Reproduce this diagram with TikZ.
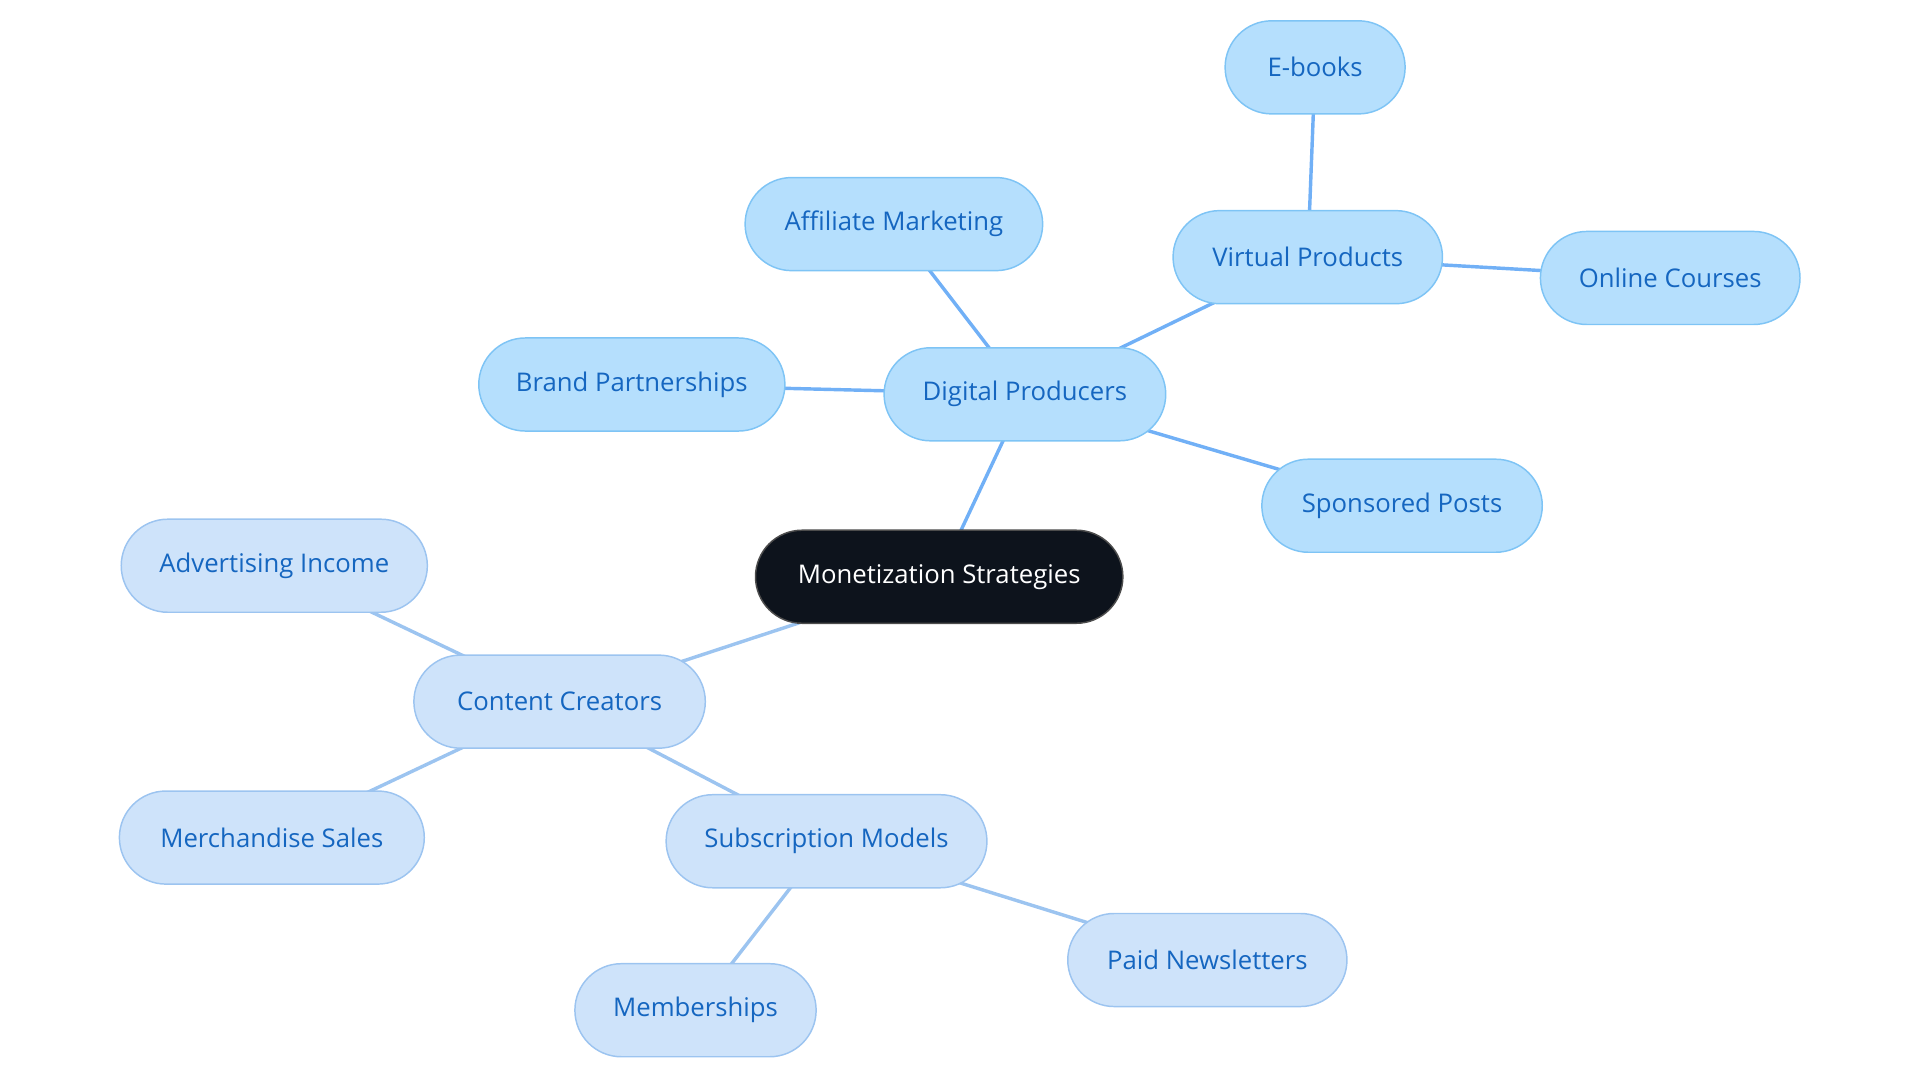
\documentclass[tikz,border=0pt]{standalone}
\usepackage{fontspec}
\setmainfont{Open Sans}
\usetikzlibrary{backgrounds}
\definecolor{bfill}{HTML}{B5DFFD}
\definecolor{bline}{HTML}{7EC4F5}
\definecolor{lfill}{HTML}{CEE3FA}
\definecolor{lline}{HTML}{9CC4F0}
\definecolor{txt}{HTML}{1566C0}
\definecolor{root}{HTML}{0D131C}
\begin{document}
\begin{tikzpicture}[x=0.5pt,y=-0.5pt,
  base/.style={rounded corners=19pt,minimum height=38pt,font=\fontsize{10.5}{12}\selectfont,text=txt,line width=0.6pt,inner sep=0pt},
  bn/.style={base,fill=bfill,draw=bline},
  ln/.style={base,fill=lfill,draw=lline},
  be/.style={draw=bline!90!blue,line width=1.4pt},
  le/.style={draw=lline,line width=1.4pt}]
\useasboundingbox (0,0) rectangle (1568,885);
\node[base,fill=root,draw=gray!60!black,text=white,minimum width=150pt] (r) at (767,471) {Monetization Strategies};
\node[bn,minimum width=115pt] (dp) at (837,322) {Digital Producers};
\node[bn,minimum width=125pt] (bp) at (516,314) {Brand Partnerships};
\node[bn,minimum width=121.5pt] (am) at (730,183) {Affiliate Marketing};
\node[bn,minimum width=110pt] (vp) at (1068,210) {Virtual Products};
\node[bn,minimum width=73.5pt] (eb) at (1074,55) {E-books};
\node[bn,minimum width=106pt] (oc) at (1364,227) {Online Courses};
\node[bn,minimum width=114.5pt] (sp) at (1145,413) {Sponsored Posts};
\node[ln,minimum width=119pt] (cc) at (457,573) {Content Creators};
\node[ln,minimum width=125pt] (ai) at (224,462) {Advertising Income};
\node[ln,minimum width=124.5pt] (ms) at (222,684) {Merchandise Sales};
\node[ln,minimum width=131pt] (sm) at (675,687) {Subscription Models};
\node[ln,minimum width=98.5pt] (mb) at (568,825) {Memberships};
\node[ln,minimum width=114pt] (pn) at (986,784) {Paid Newsletters};
\begin{scope}[on background layer]
\draw[be] (r.center) -- (dp.center);
\draw[be] (dp.center) -- (bp.center);
\draw[be] (dp.center) -- (am.center);
\draw[be] (dp.center) -- (vp.center);
\draw[be] (dp.center) -- (sp.center);
\draw[be] (vp.center) -- (eb.center);
\draw[be] (vp.center) -- (oc.center);
\draw[le] (r.center) -- (cc.center);
\draw[le] (cc.center) -- (ai.center);
\draw[le] (cc.center) -- (ms.center);
\draw[le] (cc.center) -- (sm.center);
\draw[le] (sm.center) -- (mb.center);
\draw[le] (sm.center) -- (pn.center);
\end{scope}
\end{tikzpicture}
\end{document}
